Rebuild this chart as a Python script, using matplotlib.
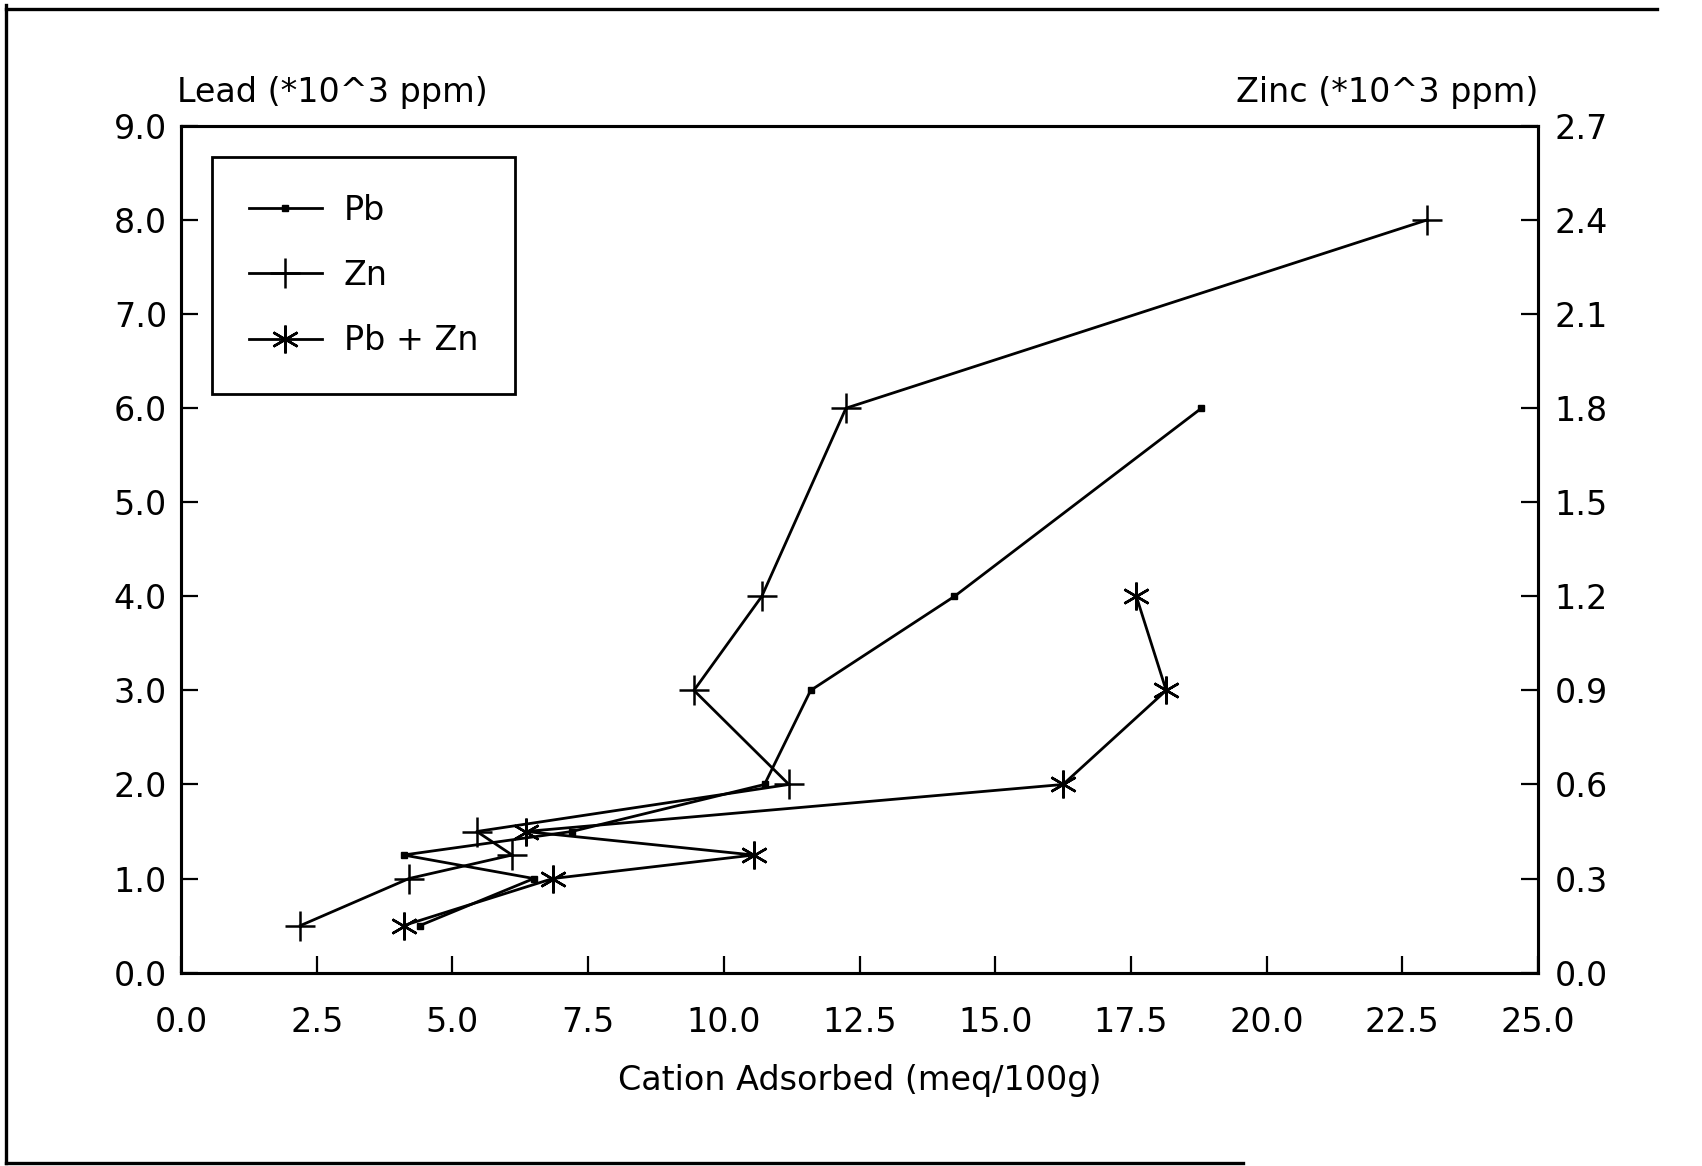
import matplotlib
matplotlib.use("Agg")
import matplotlib.pyplot as plt
from matplotlib.lines import Line2D

# Data
pb_x = [4.4, 6.5, 4.1, 7.2, 10.75, 11.6, 14.25, 18.8]
pb_y = [0.5, 1.0, 1.25, 1.5, 2.0, 3.0, 4.0, 6.0]

zn_x = [2.2, 4.2, 6.1, 5.45, 11.2, 9.45, 10.7, 12.25, 22.95]
zn_y = [0.15, 0.3, 0.375, 0.45, 0.6, 0.9, 1.2, 1.8, 2.4]   # right axis (Zinc)

pbzn_x = [4.1, 6.85, 10.55, 6.35, 16.25, 18.15, 17.6]
pbzn_y = [0.5, 1.0, 1.25, 1.5, 2.0, 3.0, 4.0]

x_ticks = [0.0, 2.5, 5.0, 7.5, 10.0, 12.5, 15.0, 17.5, 20.0, 22.5, 25.0]
left_ticks = [0, 1, 2, 3, 4, 5, 6, 7, 8, 9]
right_ticks = [0.0, 0.3, 0.6, 0.9, 1.2, 1.5, 1.8, 2.1, 2.4, 2.7]

plt.rcParams["font.family"] = ["DejaVu Sans"]
FS = 24

fig = plt.figure(figsize=(17.02, 11.66), dpi=100)
ax = fig.add_axes([181 / 1702, 1 - 972.6 / 1166, 1357 / 1702, 846.6 / 1166])
ax2 = ax.twinx()

line_kw = dict(color="black", linewidth=2.0)
ax.plot(pb_x, pb_y, marker="s", markersize=5, label="Pb", **line_kw)
ax2.plot(zn_x, zn_y, marker="+", markersize=21, markeredgewidth=1.8, label="Zn", **line_kw)
ax.plot(pbzn_x, pbzn_y, marker=(6, 2, 0), markersize=20, markeredgewidth=1.8,
        label="Pb + Zn", **line_kw)

ax.set_xlim(0, 25)
ax.set_ylim(0, 9)
ax2.set_ylim(0, 2.7)

ax.set_xticks(x_ticks)
ax.set_xticklabels([f"{v:.1f}" for v in x_ticks])
ax.set_yticks(left_ticks)
ax.set_yticklabels([f"{v:.1f}" for v in left_ticks])
ax2.set_yticks(right_ticks)
ax2.set_yticklabels([f"{v:.1f}" for v in right_ticks])

ax.tick_params(axis="x", direction="in", length=12, width=1.6, pad=24, labelsize=FS, top=False)
ax.tick_params(axis="y", direction="in", length=12, width=1.6, pad=10, labelsize=FS, right=False)
ax2.tick_params(axis="y", direction="in", length=12, width=1.6, pad=12, labelsize=FS)

for a in (ax, ax2):
    for s in a.spines.values():
        s.set_linewidth(2.2)

ax.set_xlabel("Cation Adsorbed (meq/100g)", fontsize=FS, labelpad=18)
ax.text(-0.003, 1.02, "Lead (*10^3 ppm)", transform=ax.transAxes,
        ha="left", va="bottom", fontsize=FS)
ax.text(1.0, 1.02, "Zinc (*10^3 ppm)", transform=ax.transAxes,
        ha="right", va="bottom", fontsize=FS)

handles = ax.get_legend_handles_labels()[0]
h2 = ax2.get_legend_handles_labels()[0]
handles = [handles[0], h2[0], handles[1]]
leg = ax2.legend(handles, ["Pb", "Zn", "Pb + Zn"], loc="upper left",
                 bbox_to_anchor=(0.0228, 0.9634), fontsize=FS, frameon=True,
                 fancybox=False, edgecolor="black", framealpha=1,
                 borderpad=1.1, labelspacing=0.97, handlelength=2.2,
                 handletextpad=0.65, borderaxespad=0)
leg.get_frame().set_linewidth(2.0)

# scanned page border
frame_kw = dict(color="black", linewidth=2.4, transform=fig.transFigure)
fig.add_artist(Line2D([6 / 1702, 6 / 1702], [3 / 1166, 1 - 5 / 1166], **frame_kw))
fig.add_artist(Line2D([6 / 1702, 1657 / 1702], [1 - 9 / 1166, 1 - 9 / 1166], **frame_kw))
fig.add_artist(Line2D([6 / 1702, 1243 / 1702], [3 / 1166, 3 / 1166], **frame_kw))

fig.savefig("out.png", dpi=100)
